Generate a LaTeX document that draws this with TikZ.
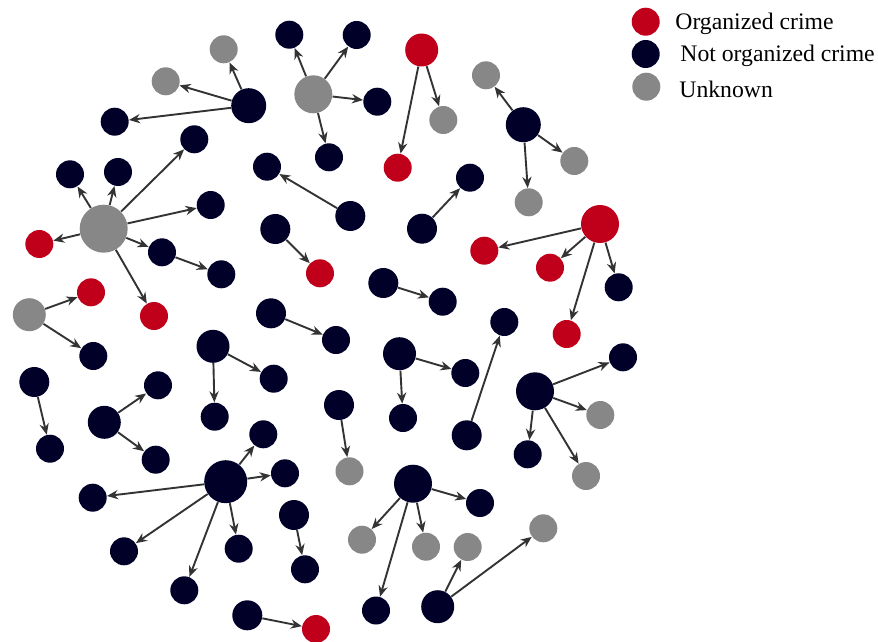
\documentclass[tikz,border=0pt]{standalone}
\usepackage{fontspec}
\setmainfont{Liberation Serif}
\usetikzlibrary{arrows.meta}
\definecolor{orgred}{HTML}{C0001A}
\definecolor{notnavy}{HTML}{000028}
\definecolor{unkgray}{HTML}{878787}
\definecolor{linkgray}{HTML}{333333}
\tikzset{
  dot/.style={circle,inner sep=0pt,minimum size=#1},
  dot/.default=14pt,
  org/.style={dot=#1,fill=orgred},
  org/.default=14pt,
  notorg/.style={dot=#1,fill=notnavy},
  notorg/.default=14pt,
  unk/.style={dot=#1,fill=unkgray},
  unk/.default=14pt,
  link/.style={draw=linkgray,line width=0.95pt,-{Stealth[length=5.5pt,width=4.6pt]}}
}
\begin{document}
\begin{tikzpicture}[x=0.5pt,y=-0.5pt]
\useasboundingbox (0,0) rectangle (878,642);
% legend
\node[org=14pt] (legorg) at (645.7,21.7) {};
\node[notorg=14pt] (legnot) at (645.7,54) {};
\node[unk=14pt] (legunk) at (646.3,86.7) {};
\node[anchor=west,inner sep=0pt,font=\fontsize{11.85}{14}\selectfont] (txorg) at (675,24) {Organized crime};
\node[anchor=west,inner sep=0pt,font=\fontsize{11.85}{14}\selectfont] (txnot) at (680,56) {Not organized crime};
\node[anchor=west,inner sep=0pt,font=\fontsize{11.85}{14}\selectfont] (txunk) at (679,89) {Unknown};

% top left hub
\node[notorg=17.5pt] (hubA) at (248.7,105.7) {};
\node[unk] (a1) at (223.7,49.3) {};
\node[unk] (a2) at (165.7,81.3) {};
\node[notorg] (a3) at (114.7,121.7) {};
\draw[link] (hubA) -- (a1);
\draw[link] (hubA) -- (a2);
\draw[link] (hubA) -- (a3);

% gray hub top
\node[unk=19pt] (hubB) at (313.3,94.3) {};
\node[notorg] (b1) at (289.3,34.7) {};
\node[notorg] (b2) at (356.7,35) {};
\node[notorg] (b3) at (377.3,101.7) {};
\node[notorg] (b4) at (329,157.3) {};
\draw[link] (hubB) -- (b1);
\draw[link] (hubB) -- (b2);
\draw[link] (hubB) -- (b3);
\draw[link] (hubB) -- (b4);

% red pair top
\node[org=16.5pt] (hubC) at (421.7,50) {};
\node[org] (c1) at (397.7,167.7) {};
\node[unk] (c2) at (443.3,120) {};
\draw[link] (hubC) -- (c1);
\draw[link] (hubC) -- (c2);

% big gray hub
\node[unk=24pt] (hubD) at (103.7,228.7) {};
\node[notorg] (d1) at (70,174.3) {};
\node[notorg] (d2) at (118,172) {};
\node[notorg] (d3) at (194.3,139.3) {};
\node[notorg] (d4) at (210.7,205) {};
\node[org] (d5) at (39.3,244) {};
\node[notorg] (d6) at (162,252.3) {};
\node[org] (d7) at (154,316) {};
\node[notorg] (d8) at (221.3,274.3) {};
\draw[link] (hubD) -- (d1);
\draw[link] (hubD) -- (d2);
\draw[link] (hubD) -- (d3);
\draw[link] (hubD) -- (d4);
\draw[link] (hubD) -- (d5);
\draw[link] (hubD) -- (d6);
\draw[link] (hubD) -- (d7);
\draw[link] (d6) -- (d8);

\node[unk=16.5pt] (g1) at (29.3,314.7) {};
\node[org] (g2) at (91,292.3) {};
\node[notorg] (g3) at (93.3,356) {};
\draw[link] (g1) -- (g2);
\draw[link] (g1) -- (g3);

% pairs in the middle
\node[notorg=15pt] (p1) at (350.3,216) {};
\node[notorg] (p2) at (267,166.7) {};
\draw[link] (p1) -- (p2);
\node[notorg=15pt] (p3) at (275.3,229) {};
\node[org] (p4) at (320,273.3) {};
\draw[link] (p3) -- (p4);
\node[notorg=15pt] (p5) at (383.3,283) {};
\node[notorg] (p6) at (442.7,301.7) {};
\draw[link] (p5) -- (p6);
\node[notorg=15pt] (p7) at (422,228.7) {};
\node[notorg] (p8) at (470,177.7) {};
\draw[link] (p7) -- (p8);
\node[notorg=15pt] (p9) at (271,313.3) {};
\node[notorg] (p10) at (336,340) {};
\draw[link] (p9) -- (p10);
\node[notorg=15pt] (p11) at (34.3,382) {};
\node[notorg] (p12) at (50,448.7) {};
\draw[link] (p11) -- (p12);
\node[notorg=15pt] (p13) at (339,405) {};
\node[unk] (p14) at (349.5,471.3) {};
\draw[link] (p13) -- (p14);
\node[notorg=15pt] (p15) at (466.7,435.3) {};
\node[notorg] (p16) at (504.3,322) {};
\draw[link] (p15) -- (p16);
\node[notorg=15pt] (p17) at (294,515) {};
\node[notorg] (p18) at (305,569.3) {};
\draw[link] (p17) -- (p18);
\node[notorg=15pt] (p19) at (247.3,615.3) {};
\node[org] (p20) at (316,629) {};
\draw[link] (p19) -- (p20);

% navy hub top right
\node[notorg=17.5pt] (hubE) at (523.3,124.7) {};
\node[unk] (e1) at (486,75.3) {};
\node[unk] (e2) at (574.3,161) {};
\node[unk] (e3) at (528.7,202.3) {};
\draw[link] (hubE) -- (e1);
\draw[link] (hubE) -- (e2);
\draw[link] (hubE) -- (e3);

% red hub right
\node[org=19pt] (hubF) at (600,224) {};
\node[org] (f1) at (484.3,250.7) {};
\node[org] (f2) at (550,267.7) {};
\node[notorg] (f3) at (618.7,287.3) {};
\node[org] (f4) at (566.7,334) {};
\draw[link] (hubF) -- (f1);
\draw[link] (hubF) -- (f2);
\draw[link] (hubF) -- (f3);
\draw[link] (hubF) -- (f4);

\node[notorg=16.5pt] (hubG) at (213,346.3) {};
\node[notorg] (h1) at (273.7,378.7) {};
\node[notorg] (h2) at (214.7,416.7) {};
\draw[link] (hubG) -- (h1);
\draw[link] (hubG) -- (h2);

\node[notorg=16.5pt] (hubH) at (104.3,422.3) {};
\node[notorg] (i1) at (158,385.3) {};
\node[notorg] (i2) at (155.7,459.7) {};
\draw[link] (hubH) -- (i1);
\draw[link] (hubH) -- (i2);

\node[notorg=16.5pt] (hubI) at (399.5,353.7) {};
\node[notorg] (j1) at (465.3,373) {};
\node[notorg] (j2) at (403,418) {};
\draw[link] (hubI) -- (j1);
\draw[link] (hubI) -- (j2);

\node[notorg=19pt] (hubJ) at (535,391.3) {};
\node[notorg] (k1) at (623,357.3) {};
\node[unk] (k2) at (600.3,415) {};
\node[notorg] (k3) at (527.7,454.3) {};
\node[unk] (k4) at (586,476) {};
\draw[link] (hubJ) -- (k1);
\draw[link] (hubJ) -- (k2);
\draw[link] (hubJ) -- (k3);
\draw[link] (hubJ) -- (k4);

% big navy hub bottom
\node[notorg=21.5pt] (hubK) at (225.7,481.7) {};
\node[notorg] (l1) at (263.3,434.3) {};
\node[notorg] (l2) at (285,473.3) {};
\node[notorg] (l3) at (92.7,497.7) {};
\node[notorg] (l4) at (124,551.3) {};
\node[notorg] (l5) at (184.3,590.3) {};
\node[notorg] (l6) at (238.7,548.7) {};
\draw[link] (hubK) -- (l1);
\draw[link] (hubK) -- (l2);
\draw[link] (hubK) -- (l3);
\draw[link] (hubK) -- (l4);
\draw[link] (hubK) -- (l5);
\draw[link] (hubK) -- (l6);

\node[notorg=19pt] (hubL) at (413,483.7) {};
\node[notorg] (m1) at (480,503) {};
\node[unk] (m2) at (362,539.7) {};
\node[unk] (m3) at (426,546.7) {};
\node[notorg] (m4) at (376,610.5) {};
\draw[link] (hubL) -- (m1);
\draw[link] (hubL) -- (m2);
\draw[link] (hubL) -- (m3);
\draw[link] (hubL) -- (m4);

\node[notorg=16.5pt] (hubM) at (437.7,606.7) {};
\node[unk] (n1) at (467.7,547) {};
\node[unk] (n2) at (543.3,528.3) {};
\draw[link] (hubM) -- (n1);
\draw[link] (hubM) -- (n2);
\end{tikzpicture}
\end{document}
